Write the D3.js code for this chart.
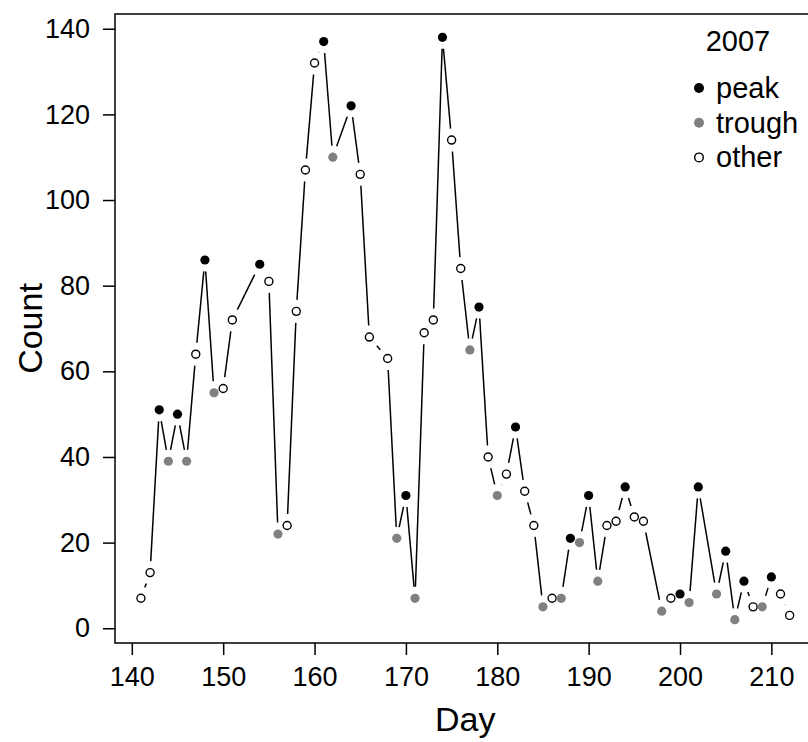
<!DOCTYPE html>
<html>
<head>
<meta charset="utf-8">
<script src="https://cdn.jsdelivr.net/npm/d3@7"></script>
<style>
  body { margin: 0; background: #fff; }
  svg { display: block; font-family: "Liberation Sans", Arial, sans-serif; }
</style>
</head>
<body>
<svg id="chart"></svg>
<script>
// Daily counts, 2007 season
const days = [141, 142, 143, 144, 145, 146, 147, 148, 149, 150, 151, 154, 155, 156, 157, 158, 159, 160,
  161, 162, 164, 165, 166, 168, 169, 170, 171, 172, 173, 174, 175, 176, 177, 178, 179, 180, 181, 182,
  183, 184, 185, 186, 187, 188, 189, 190, 191, 192, 193, 194, 195, 196, 198, 199, 200, 201, 202, 204,
  205, 206, 207, 208, 209, 210, 211, 212];
const counts = [7, 13, 51, 39, 50, 39, 64, 86, 55, 56, 72, 85, 81, 22, 24, 74, 107, 132,
  137, 110, 122, 106, 68, 63, 21, 31, 7, 69, 72, 138, 114, 84, 65, 75, 40, 31, 36, 47,
  32, 24, 5, 7, 7, 21, 20, 31, 11, 24, 25, 33, 26, 25, 4, 7, 8, 6, 33, 8,
  18, 2, 11, 5, 5, 12, 8, 3];
// p = peak, t = trough, o = other (one per day above)
const kinds = ("ooptptopto" + "opotoooopt" + "poootpt" + "oopootpoto" +
  "poototptpt" + "oopootoptp" + "tptpotpoo").split("");

const xTicks = [140, 150, 160, 170, 180, 190, 200, 210];
const yTicks = [0, 20, 40, 60, 80, 100, 120, 140];
const legendKeys = ["peak", "trough", "other"];
const legendCodes = ["p", "t", "o"];
const legendTitle = "2007";

const width = 808, height = 742;
const mLeft = 115, mRight = 815.6, mTop = 14, mBottom = 643;

const data = days.map((d, i) => ({ day: d, count: counts[i], kind: kinds[i] }));

const svg = d3.select("#chart").attr("width", width).attr("height", height);

// R-style 4% padding around the data range
const xExt = d3.extent(days), yExt = d3.extent(counts);
const xPad = (xExt[1] - xExt[0]) * 0.04, yPad = (yExt[1] - yExt[0]) * 0.04;

const x = d3.scaleLinear().domain([xExt[0] - xPad, xExt[1] + xPad]).range([mLeft, mRight]);
const y = d3.scaleLinear().domain([yExt[0] - yPad, yExt[1] + yPad]).range([mBottom, mTop]);

const fill = { p: "#000", t: "#808080", o: "#fff" };
const stroke = { p: "#000", t: "#808080", o: "#000" };

// axes
const xAxis = svg.append("g")
    .attr("transform", `translate(0,${mBottom})`)
    .call(d3.axisBottom(x).tickValues(xTicks).tickSize(12).tickPadding(12).tickSizeOuter(0));
const yAxis = svg.append("g")
    .attr("transform", `translate(${mLeft},0)`)
    .call(d3.axisLeft(y).tickValues(yTicks).tickSize(12).tickPadding(13).tickSizeOuter(0));

[xAxis, yAxis].forEach(a => {
    a.select(".domain").remove();
    a.selectAll("line").attr("stroke", "#000").attr("stroke-width", 1.5);
    a.selectAll("text").attr("fill", "#000").style("font-size", "27px")
        .style("font-family", '"Liberation Sans", Arial, sans-serif');
});

// box
svg.append("rect")
    .attr("x", mLeft).attr("y", mTop)
    .attr("width", mRight - mLeft).attr("height", mBottom - mTop)
    .attr("fill", "none").attr("stroke", "#000").attr("stroke-width", 1.5);

// axis titles
svg.append("text")
    .attr("x", (mLeft + mRight) / 2).attr("y", 731)
    .attr("text-anchor", "middle")
    .style("font-size", "34px")
    .text("Day");

svg.append("text")
    .attr("transform", `translate(42,${(mTop + mBottom) / 2}) rotate(-90)`)
    .attr("text-anchor", "middle")
    .style("font-size", "34px")
    .text("Count");

// type="b" segments: lines stop short of each point
const gap = 11.5;
const segs = [];
for (let i = 1; i < data.length; i++) {
    const x0 = x(data[i - 1].day), y0 = y(data[i - 1].count);
    const x1 = x(data[i].day), y1 = y(data[i].count);
    const len = Math.hypot(x1 - x0, y1 - y0);
    if (len <= 2 * gap) continue;
    const ux = (x1 - x0) / len, uy = (y1 - y0) / len;
    segs.push({ x1: x0 + ux * gap, y1: y0 + uy * gap, x2: x1 - ux * gap, y2: y1 - uy * gap });
}

svg.append("g").selectAll("line")
    .data(segs)
    .enter().append("line")
    .attr("x1", d => d.x1).attr("y1", d => d.y1)
    .attr("x2", d => d.x2).attr("y2", d => d.y2)
    .attr("stroke", "#000").attr("stroke-width", 1.5);

svg.append("g").selectAll("circle")
    .data(data)
    .enter().append("circle")
    .attr("cx", d => x(d.day))
    .attr("cy", d => y(d.count))
    .attr("r", d => d.kind === "o" ? 4 : 4.6)
    .attr("fill", d => fill[d.kind])
    .attr("stroke", d => stroke[d.kind])
    .attr("stroke-width", d => d.kind === "o" ? 1.4 : 0);

// legend
const legend = svg.append("g").attr("class", "legend");

legend.append("text")
    .attr("x", 738).attr("y", 51)
    .attr("text-anchor", "middle")
    .style("font-size", "29px")
    .text(legendTitle);

legendKeys.forEach((k, i) => {
    const code = legendCodes[i];
    const cy = 88 + i * 34.7;
    legend.append("circle")
        .attr("cx", 699).attr("cy", cy)
        .attr("r", code === "o" ? 4.3 : 5)
        .attr("fill", fill[code])
        .attr("stroke", stroke[code])
        .attr("stroke-width", code === "o" ? 1.4 : 0);
    legend.append("text")
        .attr("x", 716).attr("y", cy + 10)
        .style("font-size", "29px")
        .text(k);
});
</script>
</body>
</html>
